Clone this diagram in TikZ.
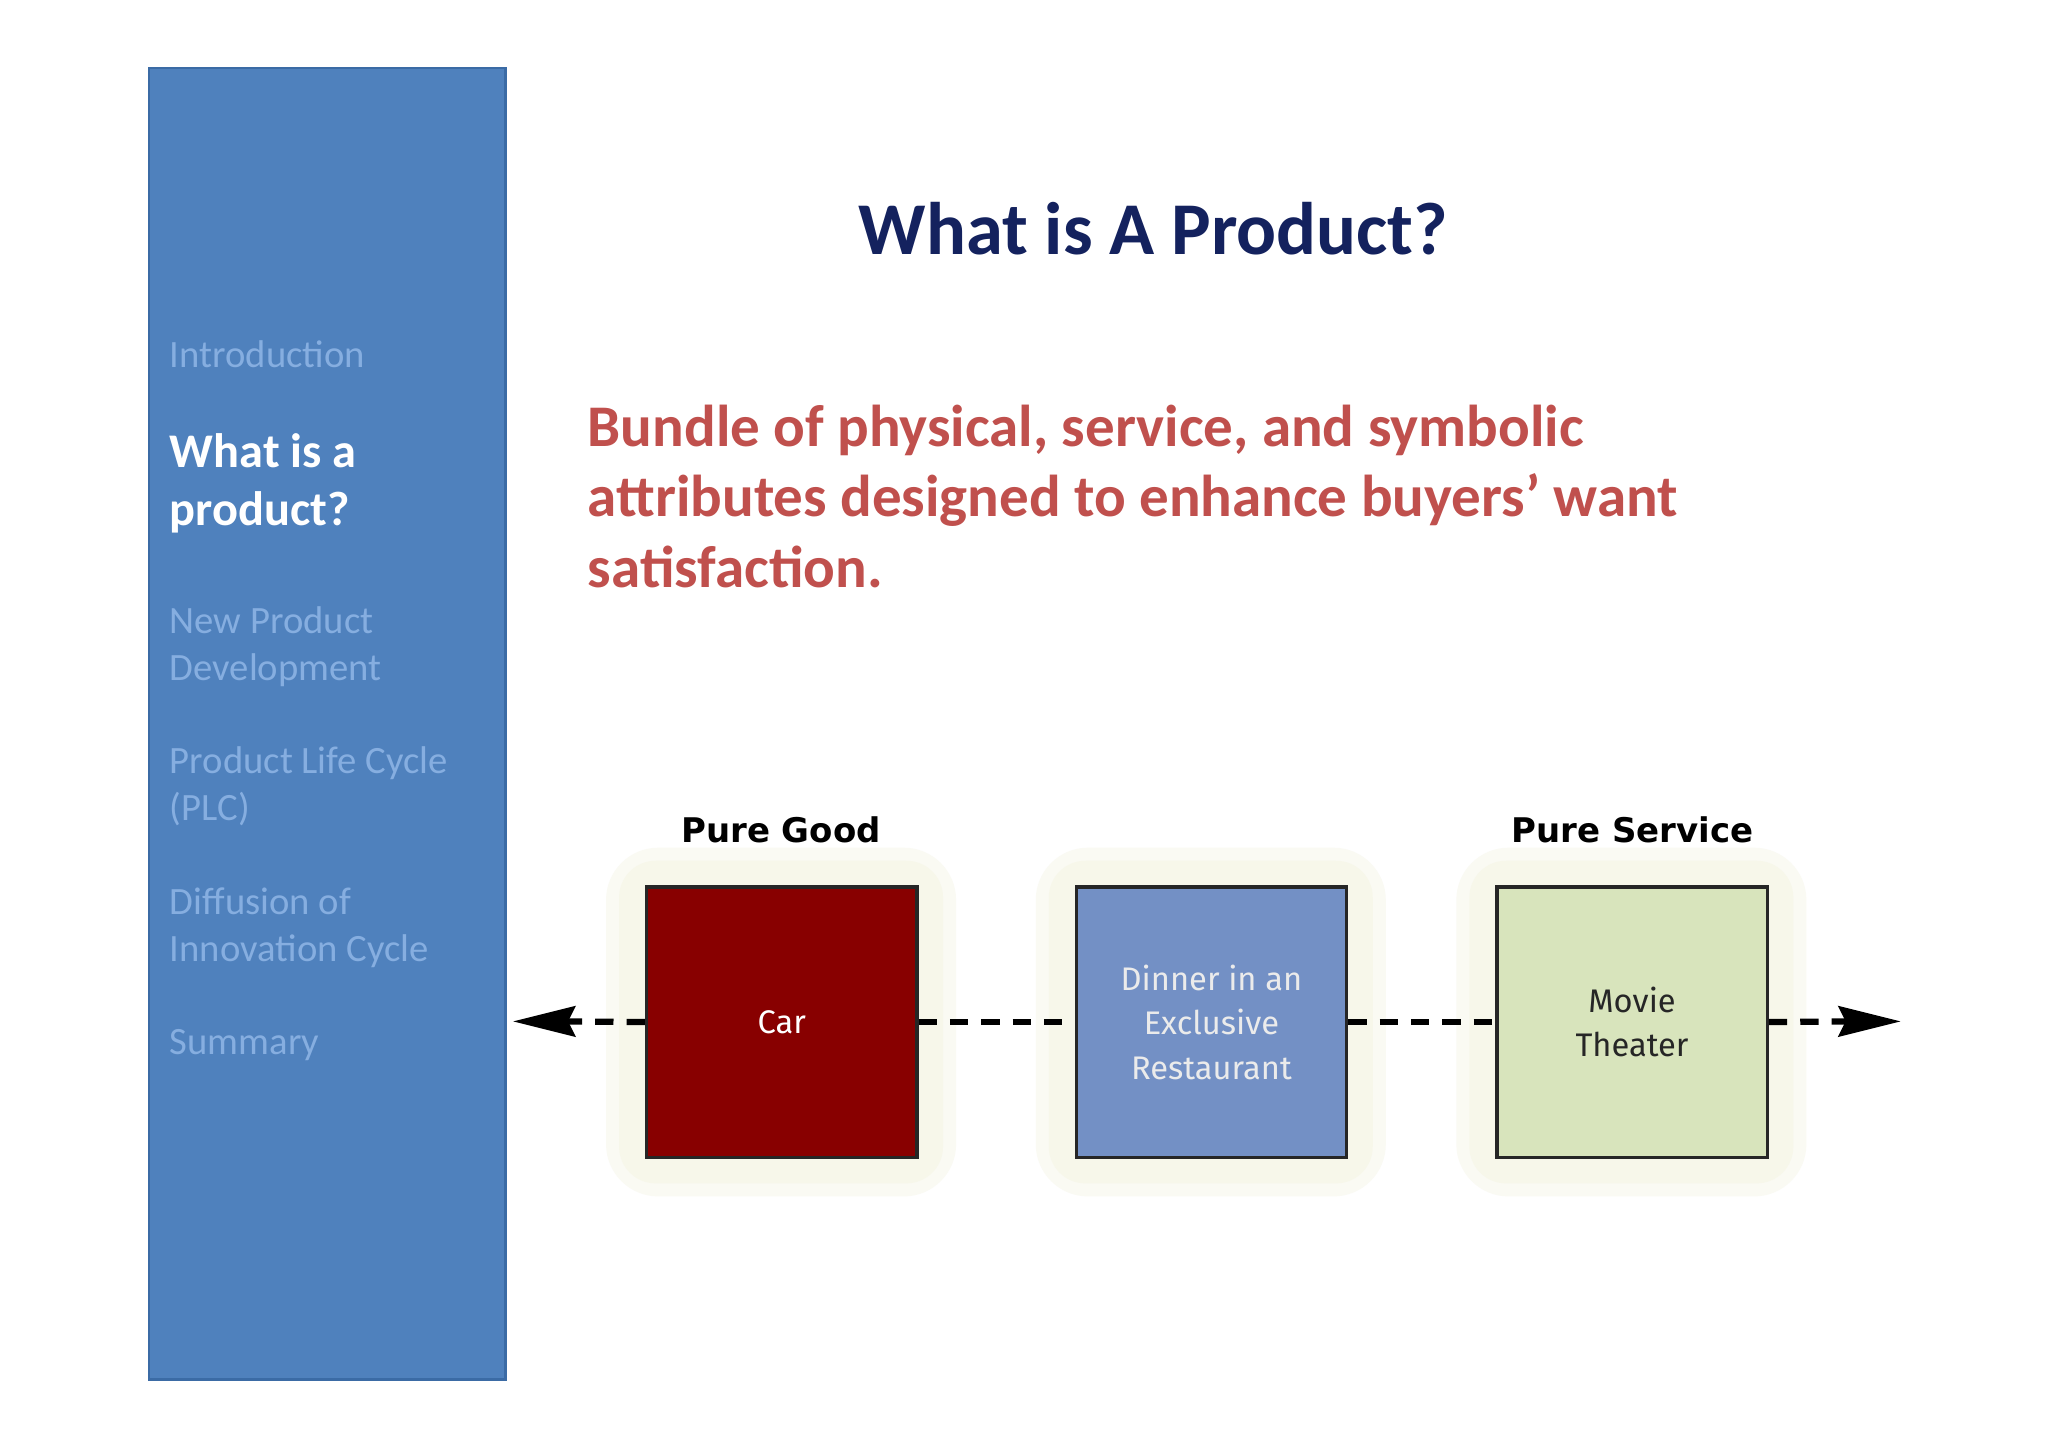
\documentclass[tikz,border=0pt]{standalone}
\usepackage{fontspec}
\setmainfont{Carlito}
\newfontfamily\boxfont{Fira Sans}
\newfontfamily\lblfont{DejaVu Sans}
\usetikzlibrary{arrows.meta}
\definecolor{side}{HTML}{4F81BD}
\definecolor{sideb}{HTML}{3B6BA5}
\definecolor{navy}{HTML}{14225E}
\definecolor{redt}{HTML}{C0504D}
\definecolor{dim}{HTML}{86AEE0}
\definecolor{carc}{HTML}{880000}
\definecolor{dinc}{HTML}{7390C5}
\definecolor{movc}{HTML}{D8E4BC}
\definecolor{halo}{HTML}{F7F7EA}
\tikzset{
  side/.style={anchor=west,align=left,text=dim,font=\fontsize{14.8}{18}\selectfont},
  sq/.style={draw=black!85,line width=1.3pt,minimum width=103.5pt,minimum height=103.5pt,align=center,font=\boxfont\fontsize{12.5}{17}\selectfont},
  glow/.style={fill=halo,rounded corners=14pt},
  lbl/.style={font=\lblfont\bfseries\fontsize{13}{15}\selectfont},
  dl/.style={line width=2.4pt,dash pattern=on 7pt off 5pt}
}
\begin{document}
\begin{tikzpicture}[x=0.5pt,y=-0.5pt]
\useasboundingbox (0,0) rectangle (1568,1108);
\fill[white] (0,0) rectangle (1568,1108);
\draw[fill=side,draw=sideb,line width=1pt] (114,52) rectangle (387,1056);
\node[anchor=center,text=navy,font=\bfseries\fontsize{28.5}{33}\selectfont] (title) at (883,175) {What is A Product?};
\node[anchor=north west,align=left,text=redt,font=\bfseries\fontsize{22.6}{27}\selectfont] (def) at (443,303) {Bundle of physical, service, and symbolic\\attributes designed to enhance buyers’ want\\satisfaction.};
\node[side] (s1) at (123,271) {Introduction};
\node[side,text=white,font=\bfseries\fontsize{18.5}{22}\selectfont] (s2) at (123,370) {What is a\\product?};
\node[side] (s3) at (123,495) {New Product\\Development};
\node[side] (s4) at (123,602) {Product Life Cycle\\(PLC)};
\node[side] (s5) at (123,710) {Diffusion of\\Innovation Cycle};
\node[side] (s6) at (123,800) {Summary};
\foreach \x in {598,927,1249}{
  \fill[halo!60!white,rounded corners=20pt] (\x-134,649) rectangle (\x+134,916);
  \fill[glow] (\x-124,659) rectangle (\x+124,906);}
\node[sq,fill=carc,text=white] (car) at (598.5,782.5) {Car};
\node[sq,fill=dinc,text=white!92!black] (din) at (927.5,782.5) {Dinner in an\\Exclusive\\Restaurant};
\node[sq,fill=movc,text=black!85] (mov) at (1249.5,782.5) {Movie\\Theater};
\node[lbl] (pg) at (598,635) {Pure Good};
\node[lbl] (ps) at (1250,635) {Pure Service};
\coordinate (L) at (393,782);
\coordinate (R) at (1455,782);
\draw[dl] (car.west) -- ([xshift=16pt]L);
\fill (L) -- ++(48,-12) -- ++(-6,12) -- ++(6,12) -- cycle;
\draw[dl] (car.east) -- (din.west);
\draw[dl] (din.east) -- (mov.west);
\draw[dl] (mov.east) -- ([xshift=-16pt]R);
\fill (R) -- ++(-48,-12) -- ++(6,12) -- ++(-6,12) -- cycle;
\end{tikzpicture}
\end{document}
